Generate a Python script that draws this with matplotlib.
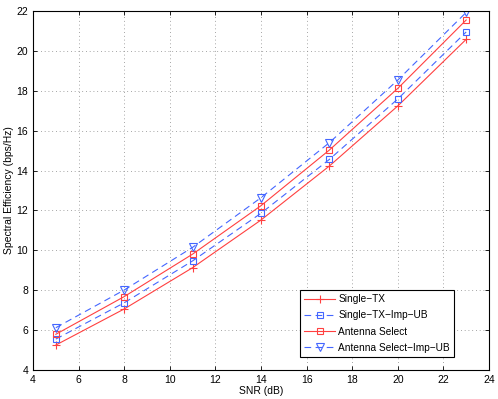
import matplotlib
matplotlib.use("Agg")
import matplotlib.pyplot as plt

snr = [5, 8, 11, 14, 17, 20, 23]
single_tx = [5.25, 7.06, 9.13, 11.52, 14.23, 17.24, 20.58]
single_tx_ub = [5.55, 7.37, 9.47, 11.86, 14.56, 17.59, 20.95]
ant_select = [5.79, 7.68, 9.81, 12.24, 15.03, 18.12, 21.55]
ant_select_ub = [6.12, 8.01, 10.15, 12.64, 15.40, 18.54, 21.93]

plt.rcParams["font.family"] = ["Liberation Sans", "DejaVu Sans"]
plt.rcParams["font.size"] = 7.5

red = "#ff4040"
blue = "#4466ff"

fig = plt.figure(figsize=(4.98, 3.99), dpi=100)
ax = fig.add_axes([33 / 498, 1 - 370 / 399, 456 / 498, 359 / 399])

ax.plot(snr, single_tx, color=red, linestyle="-", linewidth=0.8,
        marker="+", markersize=6, markeredgewidth=0.8, label="Single\u2212TX")
ax.plot(snr, single_tx_ub, color=blue, linestyle=(0, (6, 4)), linewidth=0.8,
        marker="s", markersize=5, markerfacecolor="none", markeredgewidth=0.8,
        label="Single\u2212TX\u2212Imp\u2212UB")
ax.plot(snr, ant_select, color=red, linestyle="-", linewidth=0.8,
        marker="s", markersize=5, markerfacecolor="none", markeredgewidth=0.8,
        label="Antenna Select")
ax.plot(snr, ant_select_ub, color=blue, linestyle=(0, (6, 4)), linewidth=0.8,
        marker="v", markersize=6, markerfacecolor="none", markeredgewidth=0.8,
        label="Antenna Select\u2212Imp\u2212UB")

ax.set_xlim(4, 24)
ax.set_ylim(4, 22)
ax.set_xticks(range(4, 25, 2))
ax.set_yticks(range(4, 23, 2))
ax.grid(True, linestyle=(0, (1, 3.5)), color="#888888", linewidth=0.6)
ax.tick_params(direction="in", length=3, width=0.6, top=True, right=True)
for s in ax.spines.values():
    s.set_linewidth(0.8)

ax.set_xlabel("SNR (dB)", labelpad=1)
ax.set_ylabel("Spectral Efficiency (bps/Hz)", labelpad=2)

leg = ax.legend(loc="lower right", bbox_to_anchor=((454 - 33) / 456, (370 - 357) / 359),
                borderaxespad=0, fancybox=False, edgecolor="black", framealpha=1,
                fontsize=7.3, handlelength=3.0, borderpad=0.4, labelspacing=0.62,
                handletextpad=0.35)
leg.get_frame().set_linewidth(0.8)

fig.savefig("out.png", dpi=100)
